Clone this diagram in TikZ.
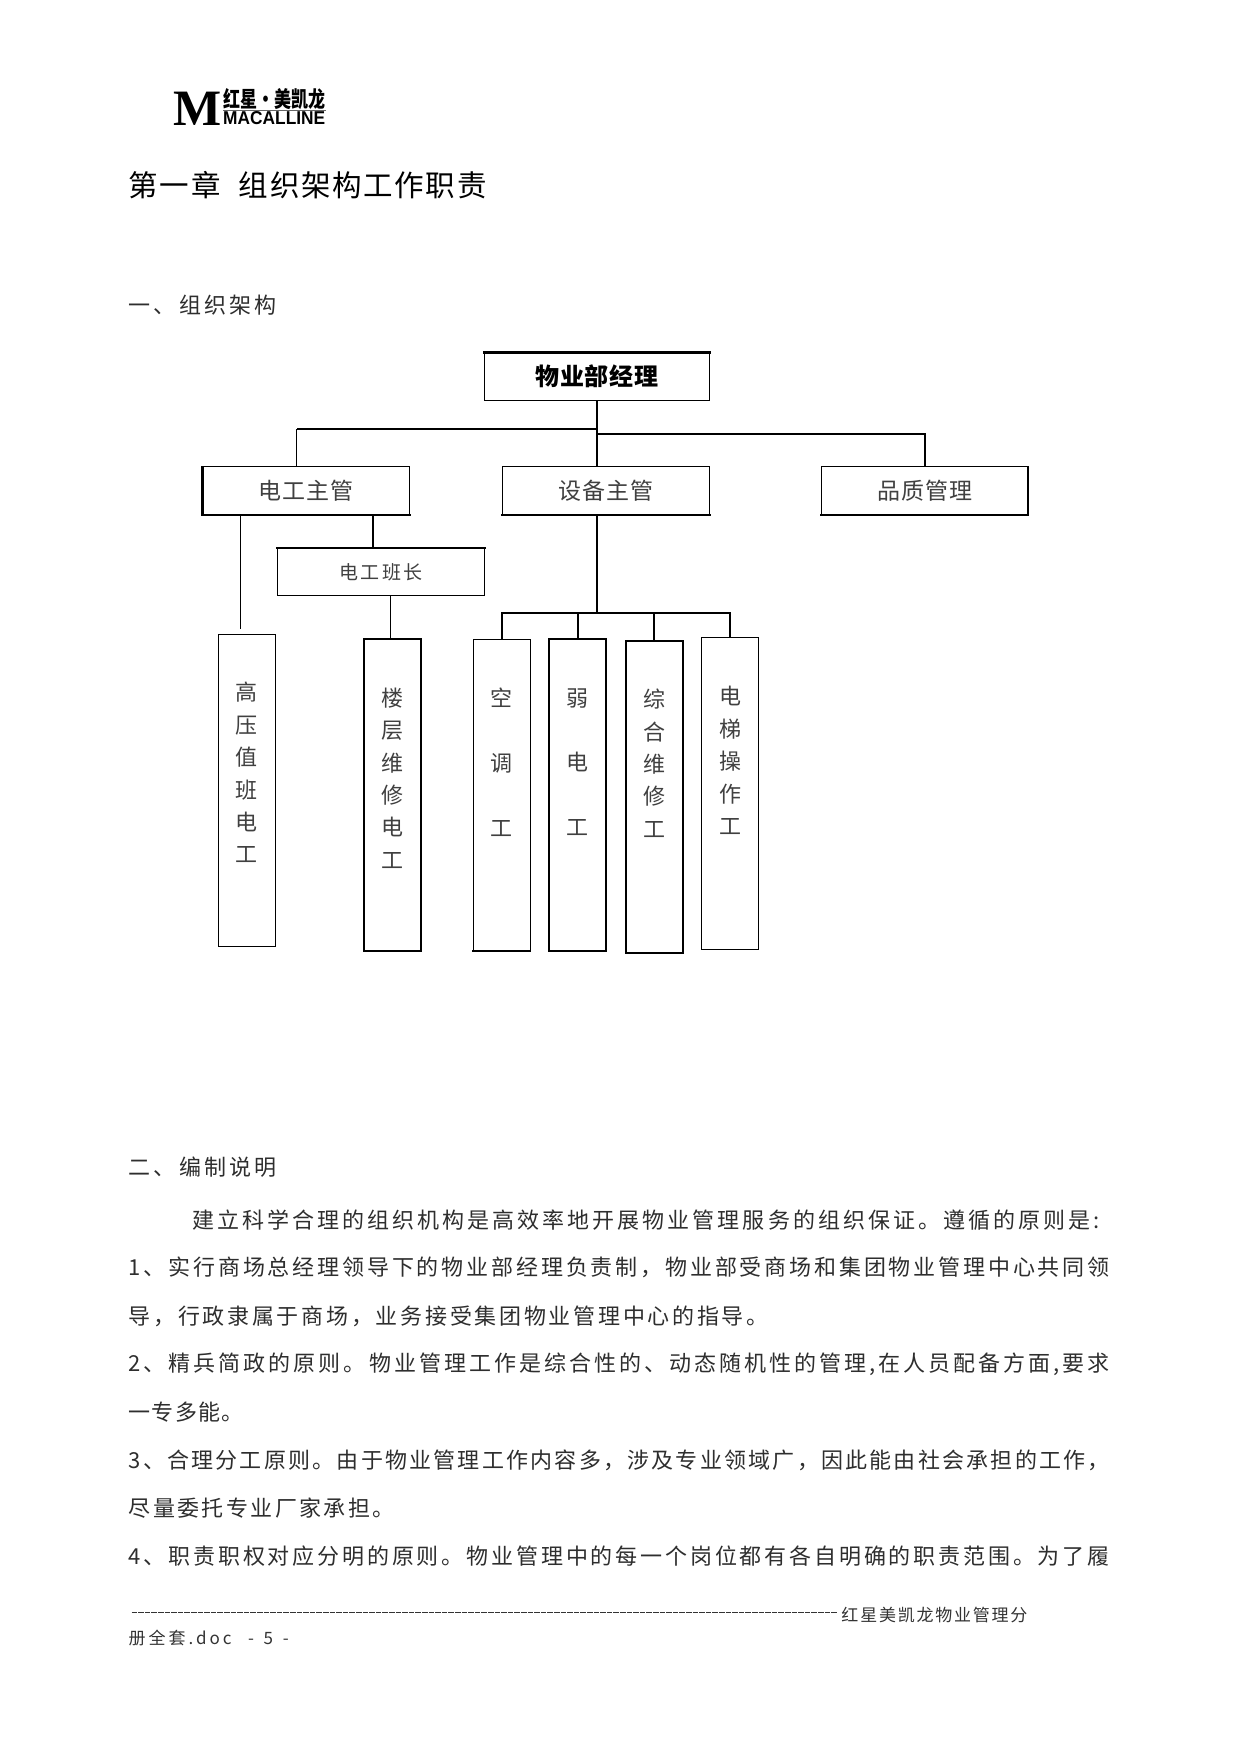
\documentclass[tikz,border=0pt]{standalone}
\usepackage{fontspec}
\setmainfont{Liberation Serif}
\newfontfamily\cjk{Noto Sans CJK SC}
\newfontfamily\lsans{Liberation Sans}
\makeatletter
% spreads the characters of a line evenly over a given width
\newcommand{\spreadline}[2]{\hbox to #1{\@tfor\sp@ch:=#2\do{\sp@ch\hskip 0pt plus 1fil}\unskip}}
\makeatother
\tikzset{
  every node/.style={inner sep=0pt,outer sep=0pt},
  textline/.style={anchor=west,text=black!82,font=\cjk\fontsize{22}{22}\selectfont},
  thinbox/.style={draw,line width=1pt,text=black!75},
  wide/.style={minimum width=207pt,minimum height=48pt,font=\cjk\fontsize{23}{23}\selectfont},
  tall/.style={minimum width=57pt,minimum height=312pt,align=center,text depth=36pt,
     font=\cjk\fontsize{22}{32.4}\selectfont},
  tallw/.style={tall,font=\cjk\fontsize{22}{64.8}\selectfont,text depth=66pt},
  conn/.style={line width=1.8pt},
  heavy/.style={line width=2.2pt,line cap=rect},
  foot/.style={anchor=west,text=black!80,font=\cjk\fontsize{17}{17}\selectfont}
}
\begin{document}
\begin{tikzpicture}[x=1.119pt,y=-1.119pt]
\useasboundingbox (0,0) rectangle (1109,1567.5);
\fill[white] (0,0) rectangle (1109,1567.5);
% logo
\node[anchor=west,font=\fontspec{Liberation Serif Bold}\fontsize{51}{51}\selectfont] (logoM) at (155,97) {M};
\node[anchor=west] (logoCn) at (199.5,89) {\resizebox{102pt}{19pt}{\cjk\bfseries\fontsize{20}{20}\selectfont 红星·美凯龙}};
\node[anchor=west] (logoEn) at (199.5,105.5) {\resizebox{102pt}{13pt}{\lsans\bfseries MACALLINE}};
\coordinate (logoRuleA) at (199.5,98.5);
\coordinate (logoRuleB) at (291,98.5);
\draw[line width=.6pt,black!60] (logoRuleA) -- (logoRuleB);
% headings
\node[anchor=west,font=\cjk\fontsize{29.5}{30}\selectfont] (title) at (115,165) {\spreadline{358pt}{第一章{ }{ }组织架构工作职责}};
\node[textline] (h1) at (115,273) {\spreadline{148pt}{一、组织架构}};
% boxes
\node[thinbox,minimum width=225pt,minimum height=48pt,text=black,font=\cjk\bfseries\fontsize{24}{24}\selectfont] (top) at (533.5,336.5) {\spreadline{123pt}{物业部经理}};
\node[thinbox,wide] (dg) at (273.5,438.5) {\spreadline{95pt}{电工主管}};
\node[thinbox,wide] (sb) at (541.5,438.5) {\spreadline{95pt}{设备主管}};
\node[thinbox,wide] (pz) at (826.5,438.5) {\spreadline{95pt}{品质管理}};
\node[thinbox,wide,font=\cjk\fontsize{19}{19}\selectfont] (bz) at (340.5,511) {\spreadline{83pt}{电工班长}};
\node[thinbox,tall] (gy) at (220.5,706.5) {高\\压\\值\\班\\电\\工};
\node[thinbox,tall,line width=2pt,text depth=34pt] (lc) at (350.5,710.5) {楼\\层\\维\\修\\电\\工};
\node[thinbox,tallw] (kt) at (448.5,710.5) {空\\调\\工};
\node[thinbox,tallw,line width=2pt] (rd) at (516.5,710.5) {弱\\电\\工};
\node[thinbox,tall,line width=2pt,text depth=68pt] (zh) at (584.5,712.5) {综\\合\\维\\修\\工};
\node[thinbox,tall,text depth=67pt] (dt) at (652.5,709.5) {电\\梯\\操\\作\\工};
% heavier box edges
\draw[heavy] (top.north west) -- (top.north east);
\draw[heavy] (dg.south west) -- (dg.south east);
\draw[heavy] (dg.north west) -- (dg.south west);
\draw[heavy] (sb.south west) -- (sb.south east);
\draw[heavy] (pz.south west) -- (pz.south east);
\draw[heavy] (pz.north east) -- (pz.south east);
\draw[heavy] (bz.north west) -- (bz.north east);
\draw[heavy] (kt.south west) -- (kt.south east);
% connectors
\coordinate (hl) at (265,383.4);
\coordinate (hr) at (826.5,388);
\coordinate (dgl) at (215,460);
\coordinate (dgl2) at (215,562);
\coordinate (dgr) at (333,460);
\coordinate (bzl) at (349,533);
\coordinate (bus) at (533.5,548);
\draw[conn] (top.south) -- (top.south |- sb.north);
\draw[line width=2.4pt] (top.south |- hl) -- (hl);
\draw[conn] (hl) -- (hl |- dg.north);
\draw[conn] (top.south |- hr) -- (hr) -- (pz.north);
\draw[line width=1pt] (dgl) -- (dgl2);
\draw[conn] (dgr) -- (dgr |- bz.north);
\draw[line width=1pt] (bzl) -- (bzl |- lc.north);
\draw[conn] (top.south |- sb.south) -- (bus);
\draw[conn,line cap=rect] (kt.north |- bus) -- (dt.north |- bus);
\draw[conn] (kt.north |- bus) -- (kt.north);
\draw[conn] (rd.north |- bus) -- (rd.north);
\draw[conn] (zh.north |- bus) -- (zh.north);
\draw[conn] (dt.north |- bus) -- (dt.north);
% body text
\node[textline] (h2) at (115,1043) {\spreadline{148pt}{二、编制说明}};
\node[textline] (b1) at (172,1090) {\spreadline{907pt}{建立科学合理的组织机构是高效率地开展物业管理服务的组织保证。遵循的原则是:}};
\node[textline] (b2) at (115,1133) {\spreadline{981pt}{1、实行商场总经理领导下的物业部经理负责制，物业部受商场和集团物业管理中心共同领}};
\node[textline] (b3) at (115,1176) {\spreadline{640pt}{导，行政隶属于商场，业务接受集团物业管理中心的指导。}};
\node[textline] (b4) at (115,1219) {\spreadline{981pt}{2、精兵简政的原则。物业管理工作是综合性的、动态随机性的管理,在人员配备方面,要求}};
\node[textline] (b5) at (115,1262) {\spreadline{115pt}{一专多能。}};
\node[textline] (b6) at (115,1305) {\spreadline{981pt}{3、合理分工原则。由于物业管理工作内容多，涉及专业领域广，因此能由社会承担的工作，}};
\node[textline] (b7) at (115,1348) {\spreadline{266pt}{尽量委托专业厂家承担。}};
\node[textline] (b8) at (115,1391) {\spreadline{981pt}{4、职责职权对应分明的原则。物业管理中的每一个岗位都有各自明确的职责范围。为了履}};
% footer
\node[foot] (f1) at (115,1443) {\hbox to 712pt{\cleaders\hbox{\hbox to 6.6pt{\rule[5pt]{5.6pt}{.9pt}\hss}}\hfill}};
\node[foot] (f2) at (752,1443) {\spreadline{186pt}{红星美凯龙物业管理分}};
\node[foot] (f3) at (115,1464) {\spreadline{160pt}{册全套.doc{ }{ }-{ }5{ }-}};
\end{tikzpicture}
\end{document}
